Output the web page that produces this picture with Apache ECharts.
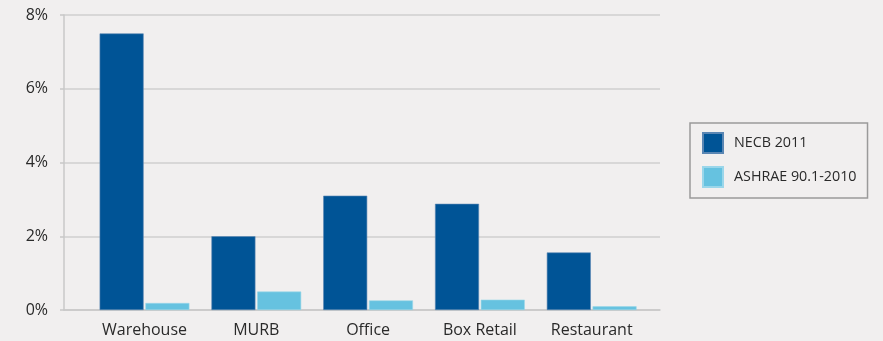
<!DOCTYPE html>
<html>
<head>
<meta charset="utf-8">
<script src="https://cdn.jsdelivr.net/npm/echarts@6/dist/echarts.min.js"></script>
<style>
html,body{margin:0;padding:0;background:#f1efef;}
#chart{width:883px;height:341px;}
</style>
</head>
<body>
<div id="chart"></div>
<script>
const categories = ['Warehouse', 'MURB', 'Office', 'Box Retail', 'Restaurant'];
const necb2011 = [7.5, 2.0, 3.1, 2.88, 1.56];
const ashrae2010 = [0.19, 0.5, 0.26, 0.28, 0.1];
const yTicks = { min: 0, max: 8, interval: 2 };
const seriesNames = ['NECB 2011', 'ASHRAE 90.1-2010'];

const font = '"Open Sans", "Noto Sans", sans-serif';
const chart = echarts.init(document.getElementById('chart'));
chart.setOption({
  backgroundColor: '#f1efef',
  animation: false,
  textStyle: { fontFamily: font },
  grid: [
    { left: 64, right: 223, top: 15, bottom: 31 },
    { left: 88.6, right: 235.4, top: 15, bottom: 31 }
  ],
  xAxis: [
    { gridIndex: 0, type: 'category', data: categories,
      axisLine: { lineStyle: { color: '#c8c8c8', width: 1.5 } },
      axisTick: { show: false }, axisLabel: { show: false } },
    { gridIndex: 1, type: 'category', data: categories,
      axisLine: { show: false }, axisTick: { show: false },
      axisLabel: { interval: 0, color: '#2a2a2a', fontSize: 16, margin: 12, fontFamily: font } }
  ],
  yAxis: [
    { gridIndex: 0, type: 'value', min: yTicks.min, max: yTicks.max, interval: yTicks.interval,
      axisLine: { show: true, lineStyle: { color: '#c8c8c8', width: 1.5 } },
      axisTick: { show: true, length: 4, lineStyle: { color: '#c8c8c8', width: 1.5 } },
      splitLine: { lineStyle: { color: '#cfcfcf', width: 1.5 } },
      axisLabel: { formatter: '{value}%', color: '#2a2a2a', fontSize: 16, margin: 16, fontFamily: font } },
    { gridIndex: 1, type: 'value', min: yTicks.min, max: yTicks.max, show: false }
  ],
  legend: {
    orient: 'vertical',
    left: 690, top: 123,
    padding: [9, 11, 10, 12],
    itemWidth: 20, itemHeight: 20, itemGap: 12,
    borderColor: '#9a9a9a', borderWidth: 1.5,
    icon: 'rect',
    textStyle: { color: '#2a2a2a', fontSize: 14.3, fontFamily: font, padding: [0, 0, 0, 6] },
    data: seriesNames
  },
  series: [
    { name: seriesNames[0], type: 'bar', xAxisIndex: 1, yAxisIndex: 1, data: necb2011,
      barWidth: 44, barGap: '4%',
      itemStyle: { color: '#005496', borderColor: '#5a86b3', borderWidth: 0.6 } },
    { name: seriesNames[1], type: 'bar', xAxisIndex: 1, yAxisIndex: 1, data: ashrae2010,
      barWidth: 44, barGap: '4%',
      itemStyle: { color: '#66c2e0', borderColor: '#9ad6ea', borderWidth: 0.6 } }
  ]
});
</script>
</body>
</html>
